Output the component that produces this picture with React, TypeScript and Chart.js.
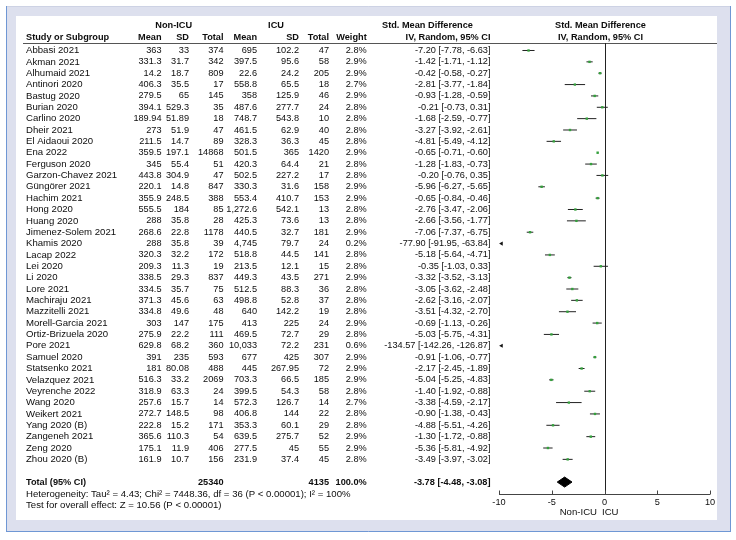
import React, { useEffect, useRef } from "react";
import { Chart, registerables } from "chart.js";

Chart.register(...registerables);

const studies = [
  "Abbasi 2021", "Akman 2021", "Alhumaid 2021", "Antinori 2020", "Bastug 2020", "Burian 2020",
  "Carlino 2020", "Dheir 2021", "El Aidaoui 2020", "Ena 2022", "Ferguson 2020", "Garzon-Chavez 2021",
  "Güngörer 2021", "Hachim 2021", "Hong 2020", "Huang 2020", "Jimenez-Solem 2021", "Khamis 2020",
  "Lacap 2022", "Lei 2020", "Li 2020", "Lore 2021", "Machiraju 2021", "Mazzitelli 2021",
  "Morell-Garcia 2021", "Ortiz-Brizuela 2020", "Pore 2021", "Samuel 2020", "Statsenko 2021",
  "Velazquez 2021", "Veyrenche 2022", "Wang 2020", "Weikert 2021", "Yang 2020 (B)",
  "Zangeneh 2021", "Zeng 2020", "Zhou 2020 (B)",
];
const nonIcuMean = [363, 331.3, 14.2, 406.3, 279.5, 394.1, 189.94, 273, 211.5, 359.5, 345, 443.8, 220.1, 355.9, 555.5, 288, 268.6, 288, 320.3, 209.3, 338.5, 334.5, 371.3, 334.8, 303, 275.9, 629.8, 391, 181, 516.3, 318.9, 257.6, 272.7, 222.8, 365.6, 175.1, 161.9];
const nonIcuSD = [33, 31.7, 18.7, 35.5, 65, 529.3, 51.89, 51.9, 14.7, 197.1, 55.4, 304.9, 14.8, 248.5, 184, 35.8, 22.8, 35.8, 32.2, 11.3, 29.3, 35.7, 45.6, 49.6, 147, 22.2, 68.2, 235, 80.08, 33.2, 63.3, 15.7, 148.5, 15.2, 110.3, 11.9, 10.7];
const nonIcuTotal = [374, 342, 809, 17, 145, 35, 18, 47, 89, 14868, 51, 47, 847, 388, 85, 28, 1178, 39, 172, 19, 837, 75, 63, 48, 175, 111, 360, 593, 488, 2069, 24, 14, 98, 171, 54, 406, 156];
const icuMean = [695, 397.5, 22.6, 558.8, 358, 487.6, 748.7, 461.5, 328.3, 501.5, 420.3, 502.5, 330.3, 553.4, 1272.6, 425.3, 440.5, 4745, 518.8, 213.5, 449.3, 512.5, 498.8, 640, 413, 469.5, 10033, 677, 445, 703.3, 399.5, 572.3, 406.8, 353.3, 639.5, 277.5, 231.9];
const icuSD = [102.2, 95.6, 24.2, 65.5, 125.9, 277.7, 543.8, 62.9, 36.3, 365, 64.4, 227.2, 31.6, 410.7, 542.1, 73.6, 32.7, 79.7, 44.5, 12.1, 43.5, 88.3, 52.8, 142.2, 225, 72.7, 72.2, 425, 267.95, 66.5, 54.3, 126.7, 144, 60.1, 275.7, 45, 37.4];
const icuTotal = [47, 58, 205, 18, 46, 24, 10, 40, 45, 1420, 21, 17, 158, 153, 13, 13, 181, 24, 141, 15, 271, 36, 37, 19, 24, 29, 231, 307, 72, 185, 58, 14, 22, 29, 52, 55, 45];
const weights = [2.8, 2.9, 2.9, 2.7, 2.9, 2.8, 2.8, 2.8, 2.8, 2.9, 2.8, 2.8, 2.9, 2.9, 2.8, 2.8, 2.9, 0.2, 2.8, 2.8, 2.9, 2.8, 2.8, 2.8, 2.9, 2.8, 0.6, 2.9, 2.9, 2.9, 2.8, 2.7, 2.8, 2.8, 2.9, 2.9, 2.8];
const smd = [-7.20, -1.42, -0.42, -2.81, -0.93, -0.21, -1.68, -3.27, -4.81, -0.65, -1.28, -0.20, -5.96, -0.65, -2.76, -2.66, -7.06, -77.90, -5.18, -0.35, -3.32, -3.05, -2.62, -3.51, -0.69, -5.03, -134.57, -0.91, -2.17, -5.04, -1.40, -3.38, -0.90, -4.88, -1.30, -5.36, -3.49];
const ciLow = [-7.78, -1.71, -0.58, -3.77, -1.28, -0.73, -2.59, -3.92, -5.49, -0.71, -1.83, -0.76, -6.27, -0.84, -3.47, -3.56, -7.37, -91.95, -5.64, -1.03, -3.52, -3.62, -3.16, -4.32, -1.13, -5.75, -142.26, -1.06, -2.45, -5.25, -1.92, -4.59, -1.38, -5.51, -1.72, -5.81, -3.97];
const ciHigh = [-6.63, -1.12, -0.27, -1.84, -0.59, 0.31, -0.77, -2.61, -4.12, -0.60, -0.73, 0.35, -5.65, -0.46, -2.06, -1.77, -6.75, -63.84, -4.71, 0.33, -3.13, -2.48, -2.07, -2.70, -0.26, -4.31, -126.87, -0.77, -1.89, -4.83, -0.88, -2.17, -0.43, -4.26, -0.88, -4.92, -3.02];

const totalLabel = "Total (95% CI)";
const totalNonIcu = 25340;
const totalIcu = 4135;
const totalWeight = 100.0;
const pooledSmd = -3.78;
const pooledLow = -4.48;
const pooledHigh = -3.08;
const heterogeneityText = "Heterogeneity: Tau² = 4.43; Chi² = 7448.36, df = 36 (P < 0.00001); I² = 100%";
const overallEffectText = "Test for overall effect: Z = 10.56 (P < 0.00001)";
const tickValues = [-10, -5, 0, 5, 10];
const xMin = -10;
const xMax = 10;
const favourLeft = "Non-ICU";
const favourRight = "ICU";

const FONT = '"Liberation Sans", Arial, sans-serif';
const FS = 9.6;
const FSN = 9.2;
const FSB = 9.2;
const totalRow = studies.length + 1;

const fmtMean = (v: number) => v.toLocaleString("en-US", { maximumFractionDigits: 2 });
const fmtCI = (e: number, l: number, h: number) => `${e.toFixed(2)} [${l.toFixed(2)}, ${h.toFixed(2)}]`;

const cols = { name: 26, nMean: 161.5, nSD: 189, nTot: 223.5, iMean: 257, iSD: 299, iTot: 329, weight: 366.7, ci: 490.5 };

const forestPlugin = {
  id: "forestDecor",
  beforeDraw(chart: any) {
    const ctx = chart.ctx as CanvasRenderingContext2D;
    ctx.save();
    // frame
    ctx.fillStyle = "#dde0ee";
    ctx.fillRect(6, 6, 725, 526);
    ctx.strokeStyle = "#cdd2e4";
    ctx.lineWidth = 1;
    ctx.beginPath();
    ctx.moveTo(6, 6.5); ctx.lineTo(731, 6.5);
    ctx.stroke();
    ctx.strokeStyle = "#6f97d4";
    ctx.beginPath();
    ctx.moveTo(6.5, 6); ctx.lineTo(6.5, 532);
    ctx.moveTo(730.5, 6); ctx.lineTo(730.5, 532);
    ctx.moveTo(6, 531.5); ctx.lineTo(731, 531.5);
    ctx.stroke();
    ctx.fillStyle = "#ffffff";
    ctx.fillRect(16, 16, 701, 504);

    const ys = chart.scales.y;
    const xs = chart.scales.x;
    ctx.fillStyle = "#0d0d0d";
    ctx.textBaseline = "middle";
    const txt = (s: string, x: number, y: number, align: CanvasTextAlign, style: "r" | "n" | "b" = "r") => {
      ctx.font = style === "b" ? `bold ${FSB}px ${FONT}` : `${style === "n" ? FSN : FS}px ${FONT}`;
      ctx.textAlign = align;
      ctx.fillText(s, x, y);
    };
    // headers
    const h1 = 25, h2 = 37.5;
    const x0 = xs.getPixelForValue(0);
    const xc = (xs.getPixelForValue(xMin) + xs.getPixelForValue(xMax)) / 2 - 4;
    txt("Non-ICU", 173.7, h1, "center", "b");
    txt("ICU", 276, h1, "center", "b");
    txt("Std. Mean Difference", 427.5, h1, "center", "b");
    txt("Std. Mean Difference", xc, h1, "center", "b");
    txt("Study or Subgroup", cols.name, h2, "left", "b");
    txt("Mean", cols.nMean, h2, "right", "b");
    txt("SD", cols.nSD, h2, "right", "b");
    txt("Total", cols.nTot, h2, "right", "b");
    txt("Mean", cols.iMean, h2, "right", "b");
    txt("SD", cols.iSD, h2, "right", "b");
    txt("Total", cols.iTot, h2, "right", "b");
    txt("Weight", cols.weight, h2, "right", "b");
    txt("IV, Random, 95% CI", cols.ci, h2, "right", "b");
    txt("IV, Random, 95% CI", xc, h2, "center", "b");

    ctx.strokeStyle = "#555";
    ctx.beginPath();
    ctx.moveTo(23, 43.5); ctx.lineTo(717, 43.5);
    ctx.stroke();

    studies.forEach((name, i) => {
      const y = ys.getPixelForValue(i);
      txt(name, cols.name, y, "left");
      txt(fmtMean(nonIcuMean[i]), cols.nMean, y, "right", "n");
      txt(fmtMean(nonIcuSD[i]), cols.nSD, y, "right", "n");
      txt(String(nonIcuTotal[i]), cols.nTot, y, "right", "n");
      txt(fmtMean(icuMean[i]), cols.iMean, y, "right", "n");
      txt(fmtMean(icuSD[i]), cols.iSD, y, "right", "n");
      txt(String(icuTotal[i]), cols.iTot, y, "right", "n");
      txt(weights[i].toFixed(1) + "%", cols.weight, y, "right", "n");
      txt(fmtCI(smd[i], ciLow[i], ciHigh[i]), cols.ci, y, "right", "n");
    });
    const yt = ys.getPixelForValue(totalRow);
    txt(totalLabel, cols.name, yt, "left", "b");
    txt(String(totalNonIcu), cols.nTot, yt, "right", "b");
    txt(String(totalIcu), cols.iTot, yt, "right", "b");
    txt(totalWeight.toFixed(1) + "%", cols.weight, yt, "right", "b");
    txt(fmtCI(pooledSmd, pooledLow, pooledHigh), cols.ci, yt, "right", "b");
    txt(heterogeneityText, cols.name, yt + 11.8, "left");
    txt(overallEffectText, cols.name, yt + 23.2, "left");

    // zero line
    const ca = chart.chartArea;
    ctx.strokeStyle = "#222";
    ctx.beginPath();
    ctx.moveTo(Math.round(x0) + 0.5, ca.top);
    ctx.lineTo(Math.round(x0) + 0.5, ca.bottom);
    ctx.stroke();
    // axis
    const ay = Math.round(ca.bottom) + 0.5;
    ctx.strokeStyle = "#444";
    ctx.beginPath();
    ctx.moveTo(xs.getPixelForValue(xMin), ay);
    ctx.lineTo(xs.getPixelForValue(xMax), ay);
    tickValues.forEach((v) => {
      const px = Math.round(xs.getPixelForValue(v)) + 0.5;
      ctx.moveTo(px, ay);
      ctx.lineTo(px, ay - 4);
    });
    ctx.stroke();
    tickValues.forEach((v) => {
      txt(String(v), xs.getPixelForValue(v), ay + 7.5, "center", "n");
    });
    txt(favourLeft, x0 - 7.5, ay + 18, "right");
    txt(favourRight, x0 - 2.5, ay + 18, "left");
    ctx.restore();
  },
};

export default function App() {
  const ref = useRef<HTMLCanvasElement | null>(null);
  useEffect(() => {
    if (!ref.current) return;
    const ciData: any[] = [];
    studies.forEach((_, i) => {
      ciData.push({ x: ciLow[i], y: i });
      ciData.push({ x: ciHigh[i], y: i });
      ciData.push({ x: null, y: i });
    });
    const pointData = studies.map((_, i) => ({ x: smd[i], y: i }));
    const arrowData = studies
      .map((_, i) => ({ hi: ciHigh[i], i }))
      .filter((d) => d.hi < xMin)
      .map((d) => ({ x: xMin + 0.24, y: d.i }));
    const dh = 0.44;
    const diamond = [
      { x: pooledLow, y: totalRow },
      { x: pooledSmd, y: totalRow - dh },
      { x: pooledHigh, y: totalRow },
      { x: pooledSmd, y: totalRow + dh },
      { x: pooledLow, y: totalRow },
    ];
    const chart = new Chart(ref.current, {
      type: "scatter",
      data: {
        datasets: [
          {
            data: pointData,
            pointStyle: "rect",
            pointRadius: weights.map((w) => Math.sqrt(w) * 1.0),
            backgroundColor: "#34a03c",
            borderColor: "#34a03c",
            borderWidth: 0,
          } as any,
          {
            data: arrowData,
            pointStyle: "triangle",
            rotation: -90,
            pointRadius: 2.4,
            backgroundColor: "#111",
            borderColor: "#111",
            borderWidth: 0,
            clip: false,
          } as any,
          {
            data: ciData,
            showLine: true,
            spanGaps: false,
            borderColor: "#222",
            borderWidth: 1,
            pointRadius: 0,
          } as any,
          {
            data: diamond,
            showLine: true,
            borderColor: "#000",
            backgroundColor: "#000",
            borderWidth: 1,
            pointRadius: 0,
            fill: "shape",
            tension: 0,
          } as any,
        ],
      },
      options: {
        animation: false,
        responsive: false,
        devicePixelRatio: 1,
        events: [],
        layout: { padding: { left: 499, right: 26, top: 43, bottom: 46 } },
        plugins: { legend: { display: false }, tooltip: { enabled: false } },
        scales: {
          x: { type: "linear", min: xMin, max: xMax, display: false },
          y: { type: "linear", min: -0.66, max: 39.05, reverse: true, display: false },
        },
      },
      plugins: [forestPlugin],
    });
    return () => chart.destroy();
  }, []);
  return (
    <div style={{ position: "absolute", left: 0, top: 0, width: 736, height: 540 }}>
      <canvas ref={ref} width={736} height={540} style={{ display: "block" }} />
    </div>
  );
}
